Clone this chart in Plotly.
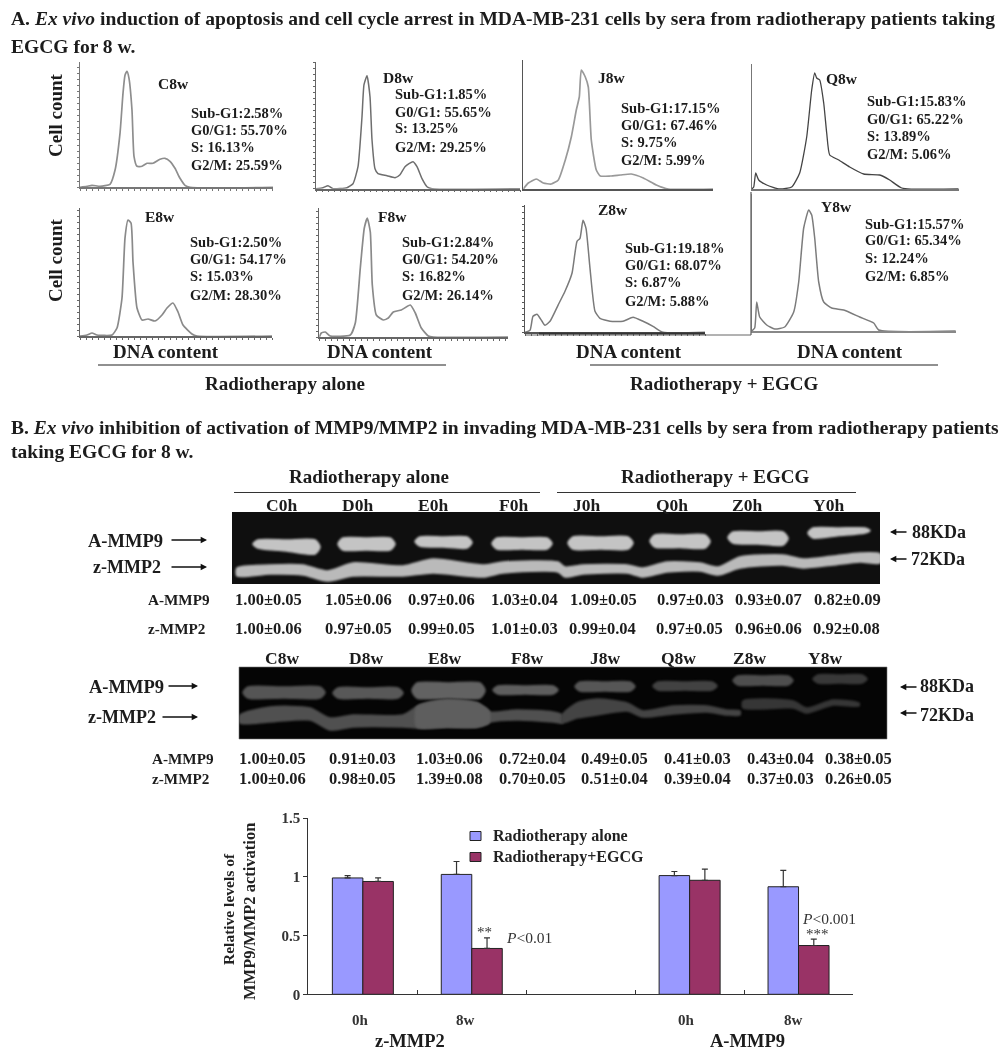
import plotly.graph_objects as go

W, H = 1003, 1050
SERIF = "Liberation Serif"

# ---------- DNA histograms: channel / cell count ----------
C8w_ch = [0,7,12,20,30,35,40,43,45,47,49,52,54,57,62,67,73,80,85,90,95,100,105,110,193]
C8w_ct = [0,1,2,1,3,17,54,94,112,116,109,77,31,21,21,24,24,28,29,26,19,9,2,0,0]
D8w_ch = [0,7,12,17,31,37,42,46,48,51,54,56,59,62,71,79,84,89,97,101,106,111,116,204]
D8w_ct = [0,1,3,0,1,5,22,72,104,113,92,49,20,15,13,11,14,22,27,22,10,2,0,0]
J8w_ch = [0,5,13,20,28,35,42,48,53,56,58,62,65,68,73,77,87,97,108,120,133,145,190]
J8w_ct = [0,6,10,6,5,9,29,52,79,92,119,112,102,49,19,13,13,14,15,11,4,0,0]
Q8w_ch = [0,2,4,7,15,28,40,48,55,60,63,65,68,72,75,78,87,98,112,128,138,150,207]
Q8w_ct = [0,2,16,9,4,0,2,16,52,99,116,111,109,86,56,34,29,22,15,14,9,1,0]
E8w_ch = [0,7,12,17,32,37,42,45,48,51,53,57,62,68,75,82,87,93,98,103,112,117,192]
E8w_ct = [0,1,3,1,1,8,38,98,116,113,74,28,16,17,15,21,28,33,24,11,2,0,0]
F8w_ch = [0,2,6,11,31,36,41,45,48,51,53,57,64,69,74,82,91,96,102,109,114,189]
F8w_ct = [0,4,5,1,2,14,69,109,119,105,52,22,17,19,25,27,32,24,9,1,0,0]
Z8w_ch = [0,5,8,12,17,20,25,33,40,47,52,55,58,61,65,70,75,85,98,108,118,128,138,180]
Z8w_ct = [0,2,16,18,11,7,11,27,41,59,91,94,112,104,64,21,14,11,11,15,11,6,0,0]
Y8w_ch = [0,3,5,8,15,23,33,42,47,52,57,60,63,67,72,80,92,108,122,127,204]
Y8w_ct = [0,3,29,14,6,2,4,19,49,103,121,116,93,49,29,23,21,14,8,1,0]

stat_names = ["Sub-G1:", "G0/G1: ", "S: ", "G2/M: "]
C8w_st = ["2.58", "55.70", "16.13", "25.59"]
D8w_st = ["1.85", "55.65", "13.25", "29.25"]
J8w_st = ["17.15", "67.46", "9.75", "5.99"]
Q8w_st = ["15.83", "65.22", "13.89", "5.06"]
E8w_st = ["2.50", "54.17", "15.03", "28.30"]
F8w_st = ["2.84", "54.20", "16.82", "26.14"]
Z8w_st = ["19.18", "68.07", "6.87", "5.88"]
Y8w_st = ["15.57", "65.34", "12.24", "6.85"]

# ---------- Gels: lane position / migration ----------
gel1_lanes = ["C0h", "D0h", "E0h", "F0h", "J0h", "Q0h", "Z0h", "Y0h"]
gel1_mmp9_x0 = [21,106,183,260,336,418,496,576]
gel1_mmp9_x1 = [88,163,240,320,401,478,556,638]
gel1_mmp9_top = [28,26,25,26,25,23,20,16]
gel1_mmp9_bl = [36,38,34,37,37,35,31,26]
gel1_mmp9_br = [42,38,36,37,37,36,33,21]
gel1_mmp2_x = [5,38,71,95,121,171,201,251,271,326,333,351,395,411,435,468,486,508,551,571,601,628,648]
gel1_mmp2_top = [56,53,53,59,51,54,47,53,50,50,55,53,53,56,50,51,55,45,43,47,44,41,42]
gel1_mmp2_bot = [64,62,63,69,64,64,61,65,61,60,65,62,61,65,60,59,63,56,53,56,53,50,51]
gel1_a = ["1.00±0.05","1.05±0.06","0.97±0.06","1.03±0.04","1.09±0.05","0.97±0.03","0.93±0.07","0.82±0.09"]
gel1_z = ["1.00±0.06","0.97±0.05","0.99±0.05","1.01±0.03","0.99±0.04","0.97±0.05","0.96±0.06","0.92±0.08"]

gel2_lanes = ["C8w", "D8w", "E8w", "F8w", "J8w", "Q8w", "Z8w", "Y8w"]
gel2_mmp9_x0 = [4,94,173,254,336,414,494,574]
gel2_mmp9_x1 = [86,164,246,319,396,478,554,628]
gel2_mmp9_top = [20,21,16,19,15,15,9,8]
gel2_mmp9_bot = [31,31,31,27,24,23,18,16]
gel2_ribA_x = [1,31,71,91,114,164,181,208,238,251,278,314,323]
gel2_ribA_top = [48,40,41,51,48,48,38,33,36,45,43,45,48]
gel2_ribA_bot = [56,55,53,63,60,60,61,60,60,55,53,55,56]
gel2_ribB_x = [323,338,358,388,404,434,468,488,501]
gel2_ribB_top = [48,36,32,36,44,39,39,43,44]
gel2_ribB_bot = [56,51,48,44,50,47,45,48,48]
gel2_ribC_x = [504,554,568,594,620]
gel2_ribC_top = [34,34,41,33,36]
gel2_ribC_bot = [41,41,46,38,39]
gel2_hump_x = [178,208,238,250]
gel2_hump_top = [40,33,36,44]
gel2_hump_bot = [60,60,60,56]
gel2_a = ["1.00±0.05","0.91±0.03","1.03±0.06","0.72±0.04","0.49±0.05","0.41±0.03","0.43±0.04","0.38±0.05"]
gel2_z = ["1.00±0.06","0.98±0.05","1.39±0.08","0.70±0.05","0.51±0.04","0.39±0.04","0.37±0.03","0.26±0.05"]

# ---------- Bar chart ----------
bar_labels = ["0h", "8w", "0h", "8w"]
bar_slots = [1, 2, 4, 5]
rt_alone = [0.99, 1.02, 1.01, 0.915]
rt_alone_err = [0.02, 0.11, 0.035, 0.14]
rt_egcg = [0.96, 0.39, 0.97, 0.415]
rt_egcg_err = [0.03, 0.09, 0.095, 0.055]
y_ticks = [0, 0.5, 1, 1.5]
y_tick_text = ["0", "0.5", "1", "1.5"]

fig = go.Figure()
ann = []
shapes = []
axis_n = [0]


def px(x):
    return x / W


def py(y):
    return 1 - y / H


def T(text, x, y, size=14.5, anchor="left", angle=0, bold=True, color="#1c1c1c"):
    s = f"<b>{text}</b>" if bold else text
    ann.append(dict(text=s, x=px(x), y=py(y), xref="paper", yref="paper", showarrow=False,
                    xanchor=anchor, yanchor="middle", textangle=angle, align="left",
                    font=dict(family=SERIF, size=size, color=color)))


def arrow(x_tip, y, x_tail, width=1.4, head=0.9):
    ann.append(dict(text="", x=px(x_tip), y=py(y), xref="paper", yref="paper", showarrow=True,
                    ax=x_tail - x_tip, ay=0, axref="pixel", ayref="pixel", arrowhead=2,
                    arrowsize=head, arrowwidth=width, arrowcolor="#111"))


def line(x0, y0, x1, y1, color="#333", width=1.2, layer="above"):
    shapes.append(dict(type="line", xref="paper", yref="paper", x0=px(x0), x1=px(x1),
                       y0=py(y0), y1=py(y1), line=dict(color=color, width=width), layer=layer))


def axes(x0, x1, y_top, y_bot, xr, yr, **kw):
    axis_n[0] += 1
    n = axis_n[0]
    xa = dict(domain=[px(x0), px(x1)], range=xr, anchor=f"y{n}", showgrid=False, zeroline=False,
              showticklabels=False, ticks="")
    ya = dict(domain=[py(y_bot), py(y_top)], range=yr, anchor=f"x{n}", showgrid=False, zeroline=False,
              showticklabels=False, ticks="")
    xa.update(kw.get("x", {}))
    ya.update(kw.get("y", {}))
    fig.update_layout({f"xaxis{n}": xa, f"yaxis{n}": ya})
    return f"x{n}", f"y{n}"


def histogram(name, ch, ct, st, x0, y_base, y_top, x_end, curve, ax_col, lab_xy, st_x, st_y, ticks=True, lw=1.7):
    w = x_end - x0
    h = y_base - y_top
    tick = dict(ticks="outside", ticklen=2, tickwidth=1, tickcolor=ax_col, dtick=6, tick0=0) if ticks else {}
    xa, ya = axes(x0, x_end, y_top, y_base, [0, w], [0, h],
                  x=dict(showline=True, linecolor=ax_col, linewidth=1.5, **tick),
                  y=dict(showline=True, linecolor=ax_col, linewidth=1.3, **tick))
    fig.add_trace(go.Scatter(x=ch, y=ct, mode="lines", xaxis=xa, yaxis=ya, showlegend=False,
                             line=dict(color=curve, width=lw, shape="spline", smoothing=0.5),
                             hoverinfo="skip", cliponaxis=False))
    T(name, lab_xy[0], lab_xy[1], 15.5)
    for nm, v, yy in zip(stat_names, st, st_y):
        T(f"{nm}{v}%", st_x, yy, 14.5)


histogram("C8w", C8w_ch, C8w_ct, C8w_st, 80, 187.3, 62, 273, "#8e8e8e", "#777", (156, 84), 188.5, [113,130,147,165])
histogram("D8w", D8w_ch, D8w_ct, D8w_st, 316, 188.7, 62, 520, "#6e6e6e", "#666", (381, 77), 393, [94,112,128,147], lw=1.5)
histogram("J8w", J8w_ch, J8w_ct, J8w_st, 523.3, 189, 60, 713, "#999999", "#555", (596, 77), 618.5, [108,125,142,160], ticks=False)
histogram("Q8w", Q8w_ch, Q8w_ct, Q8w_st, 751.7, 189, 64, 958.7, "#444444", "#777", (824, 78), 864.5, [101,118.5,136,154], ticks=False, lw=1.3)
histogram("E8w", E8w_ch, E8w_ct, E8w_st, 80, 336, 208, 272, "#8a8a8a", "#666", (143, 216), 187.5, [242,259,276,295])
histogram("F8w", F8w_ch, F8w_ct, F8w_st, 319.3, 337, 208, 508, "#8a8a8a", "#666", (376, 216), 399.5, [242,259,276,295])
histogram("Z8w", Z8w_ch, Z8w_ct, Z8w_st, 525, 332.3, 205, 705, "#7a7a7a", "#555", (596, 210), 622.5, [248,265,282,301], lw=1.5)
histogram("Y8w", Y8w_ch, Y8w_ct, Y8w_st, 751.7, 331, 194, 956, "#7c7c7c", "#888", (819, 206), 862.5, [224,240,258,276], ticks=False, lw=1.5)

line(751, 192, 751, 335, "#666", 1.3)
line(525, 335, 751, 335, "#666", 1)
line(539, 333.5, 705, 333.5, "#333", 1.8)

T("Cell count", 55, 115, 19, "center", -90)
T("Cell count", 55, 260, 19, "center", -90)
for xx in (166, 380, 629, 850):
    T("DNA content", xx, 351, 19, "center")
line(98, 365, 446, 365, "#222", 1.2)
line(590, 365, 938, 365, "#222", 1.2)
T("Radiotherapy alone", 285, 383, 19, "center")
T("Radiotherapy + EGCG", 724, 383, 19, "center")

T("A. <i>Ex vivo</i> induction of apoptosis and cell cycle arrest in MDA-MB-231 cells by sera from radiotherapy patients taking", 8.5, 19, 19.55)
T("EGCG for 8 w.", 8.5, 46, 19.55)
T("B. <i>Ex vivo</i> inhibition of activation of MMP9/MMP2 in invading MDA-MB-231 cells by sera from radiotherapy patients", 8.5, 427, 19.55)
T("taking EGCG for 8 w.", 8.5, 451, 19.55)


def band_path(x0, x1, top, bl, br):
    xs = [x0, x0 + 5, (x0 + x1) / 2, x1 - 5, x1, x1 - 5, (x0 + x1) / 2, x0 + 5, x0]
    ys = [(top + bl) / 2, top, top, top, (top + br) / 2, br, (bl + br) / 2, bl, (top + bl) / 2]
    return xs, ys


def fill(xa, ya, xs, ys, color):
    fig.add_trace(go.Scatter(x=xs, y=ys, mode="lines", fill="toself", fillcolor=color, xaxis=xa, yaxis=ya,
                             showlegend=False, hoverinfo="skip",
                             line=dict(color=color, width=1.5, shape="spline", smoothing=0.7)))


def ribbon(xa, ya, x, top, bot, color):
    fill(xa, ya, list(x) + list(x)[::-1] + [x[0]], list(top) + list(bot)[::-1] + [top[0]], color)


# Gel 0h
shapes.append(dict(type="rect", xref="paper", yref="paper", x0=px(232), x1=px(880), y0=py(512), y1=py(584),
                   fillcolor="#0f0f0f", line=dict(width=0), layer="below"))
xa, ya = axes(232, 880, 512, 584, [0, 648], [72, 0])
gel_first = axis_n[0]
for a, b, t, l, r in zip(gel1_mmp9_x0, gel1_mmp9_x1, gel1_mmp9_top, gel1_mmp9_bl, gel1_mmp9_br):
    xs, ys = band_path(a, b, t, l, r)
    fill(xa, ya, xs, ys, "#c4c4c4")
ribbon(xa, ya, gel1_mmp2_x, gel1_mmp2_top, gel1_mmp2_bot, "#bababa")

# Gel 8w
shapes.append(dict(type="rect", xref="paper", yref="paper", x0=px(239), x1=px(887), y0=py(667), y1=py(739),
                   fillcolor="#050505", line=dict(color="#777", width=0.6), layer="below"))
xa, ya = axes(239, 887, 667, 739, [0, 648], [72, 0])
gel_last = axis_n[0]
gel2_band_cols = ["#555555", "#585858", "#626262", "#5e5e5e", "#565656", "#424242", "#4e4e4e", "#383838"]
for a, b, t, bt, c in zip(gel2_mmp9_x0, gel2_mmp9_x1, gel2_mmp9_top, gel2_mmp9_bot, gel2_band_cols):
    xs, ys = band_path(a, b, t, bt, bt)
    fill(xa, ya, xs, ys, c)
ribbon(xa, ya, gel2_ribA_x, gel2_ribA_top, gel2_ribA_bot, "#505050")
ribbon(xa, ya, gel2_hump_x, gel2_hump_top, gel2_hump_bot, "#5e5e5e")
ribbon(xa, ya, gel2_ribB_x, gel2_ribB_top, gel2_ribB_bot, "#444444")
ribbon(xa, ya, gel2_ribC_x, gel2_ribC_top, gel2_ribC_bot, "#363636")

# Gel texts
T("Radiotherapy alone", 369, 476, 19, "center")
T("Radiotherapy + EGCG", 715, 476, 19, "center")
line(234, 492.5, 540, 492.5, "#333", 1.1)
line(557, 492.5, 856, 492.5, "#333", 1.1)
for lab, xx in zip(gel1_lanes, [281, 357, 433, 513, 587, 672, 747, 828]):
    T(lab, xx, 505, 17.5, "center")
T("A-MMP9", 86, 541, 18.5)
T("z-MMP2", 91, 567, 18)
arrow(207, 540, 170)
arrow(207, 567, 170)
arrow(890, 532, 908)
arrow(890, 559, 908)
T("88KDa", 910, 532, 18)
T("72KDa", 909, 559, 18)
T("A-MMP9", 145.5, 599, 15.2)
T("z-MMP2", 145.5, 628, 15.2)
for v, xx in zip(gel1_a, [268, 358, 441, 524, 603, 690, 768, 847]):
    T(v, xx, 599, 16.5, "center")
for v, xx in zip(gel1_z, [268, 358, 441, 524, 602, 689, 768, 846]):
    T(v, xx, 628, 16.5, "center")

for lab, xx in zip(gel2_lanes, [282, 366, 444, 527, 605, 678, 749, 825]):
    T(lab, xx, 658, 17.5, "center")
T("A-MMP9", 87, 687, 18.5)
T("z-MMP2", 86, 717, 18)
arrow(198, 686, 167)
arrow(198, 717, 161)
arrow(900, 687, 918)
arrow(900, 713, 918)
T("88KDa", 917.5, 686, 18)
T("72KDa", 917.5, 715, 18)
T("A-MMP9", 149.5, 758, 15.2)
T("z-MMP2", 149.5, 778, 15.2)
for v, xx in zip(gel2_a, [272, 362, 449, 532, 614, 697, 780, 858]):
    T(v, xx, 758, 16.5, "center")
for v, xx in zip(gel2_z, [272, 362, 449, 532, 614, 697, 780, 858]):
    T(v, xx, 778, 16.5, "center")

# Bar chart
xa, ya = axes(308.4, 853, 818, 994.3, [0.5, 5.5], [0, 1.5],
              x=dict(showline=True, linecolor="#333", linewidth=1.2, ticks="inside", ticklen=4, tickcolor="#333",
                     tickvals=[0.5, 1.5, 2.5, 3.5, 4.5, 5.5]),
              y=dict(showline=True, linecolor="#333", linewidth=1.2, ticks="outside", ticklen=4, tickcolor="#333",
                     tickvals=y_ticks, ticktext=[f"<b>{t}</b>" for t in y_tick_text], showticklabels=True,
                     tickfont=dict(family=SERIF, size=15, color="#333")))
series = (("Radiotherapy alone", rt_alone, rt_alone_err, "#9999ff", 836),
          ("Radiotherapy+EGCG", rt_egcg, rt_egcg_err, "#993366", 857))
for name, vals, errs, col, ly in series:
    fig.add_trace(go.Bar(x=bar_slots, y=vals, name=name, xaxis=xa, yaxis=ya, showlegend=False,
                         marker=dict(color=col, line=dict(color="#222", width=1)),
                         error_y=dict(type="data", symmetric=False, array=errs, arrayminus=[0] * 4,
                                      color="#333", thickness=1.2, width=3),
                         hoverinfo="skip"))
    shapes.append(dict(type="rect", xref="paper", yref="paper", x0=px(470), x1=px(481), y0=py(ly - 4.5), y1=py(ly + 4.5),
                       fillcolor=col, line=dict(color="#222", width=1)))
    T(name, 490.5, ly, 16, color="#222")
for lab, xx in zip(bar_labels, [360, 465, 686, 793]):
    T(lab, xx, 1020, 15, "center", color="#333")
T("z-MMP2", 410, 1041, 18.5, "center")
T("A-MMP9", 747, 1041, 18.5, "center")
T("Relative levels of", 228, 909, 15.5, "center", -90, color="#222")
T("MMP9/MMP2 activation", 249, 912, 16.5, "center", -90, color="#222")
T("<i>P</i>&lt;0.01", 504, 937, 15.5, bold=False, color="#333")
T("**", 484, 932, 15, "center", bold=False, color="#333")
T("<i>P</i>&lt;0.001", 800, 918, 15.5, bold=False, color="#333")
T("***", 817, 934, 15, "center", bold=False, color="#333")

fig.update_layout(
    width=W, height=H, margin=dict(l=0, r=0, t=0, b=0, autoexpand=False),
    paper_bgcolor="white", plot_bgcolor="rgba(0,0,0,0)",
    barmode="group", bargap=0.44, bargroupgap=0, showlegend=False,
    annotations=ann, shapes=shapes,
    font=dict(family=SERIF),
)
gel_sel = ",".join(f".subplot.x{n}y{n} .trace" for n in (gel_first, gel_last))
post = (
    "document.body.style.margin='0';document.body.style.overflow='hidden';"
    f"document.querySelectorAll('{gel_sel}').forEach(function(e){{e.style.filter='blur(1.3px)';}});"
    "document.querySelectorAll('.main-svg').forEach(function(e){e.style.filter='blur(0.35px)';});"
)
fig.write_html("out.html", post_script=post, config=dict(displayModeBar=False))
